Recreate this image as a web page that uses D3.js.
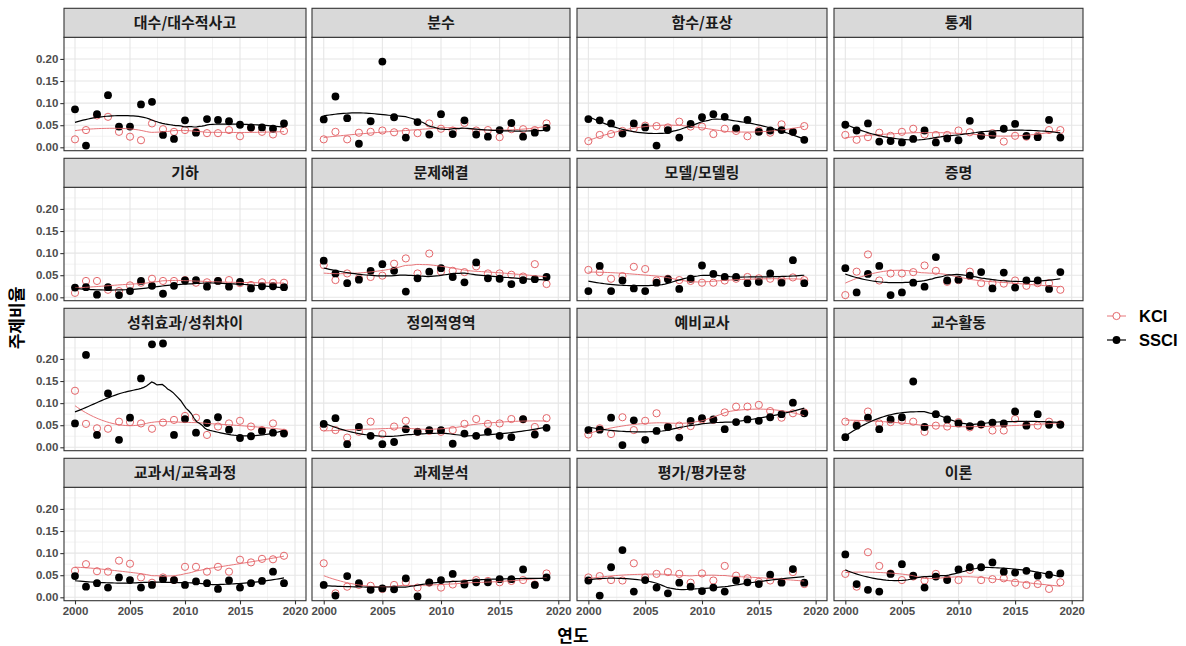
<!DOCTYPE html>
<html>
<head>
<meta charset="utf-8">
<script src="https://cdn.jsdelivr.net/npm/d3@7"></script>
<style>
  body { margin: 0; background: #fff; }
  svg text { font-family: "Liberation Sans", Arial, sans-serif; }
  .kr { font-family: "Noto Sans CJK KR", "Noto Sans", sans-serif; }
</style>
</head>
<body>
<svg id="chart" width="1186" height="646"></svg>
<script>
// years on the x axis
var years = [2000, 2001, 2002, 2003, 2004, 2005, 2006, 2007, 2008, 2009,
             2010, 2011, 2012, 2013, 2014, 2015, 2016, 2017, 2018, 2019];

var topics = ["대수/대수적사고", "분수", "함수/표상", "통계",
              "기하", "문제해결", "모델/모델링", "증명",
              "성취효과/성취차이", "정의적영역", "예비교사", "교수활동",
              "교과서/교육과정", "과제분석", "평가/평가문항", "이론"];

var yTicks = [0, 0.05, 0.10, 0.15, 0.20];
var xTicks = [2000, 2005, 2010, 2015, 2020];
var groups = ["KCI", "SSCI"];

// topic share per year, KCI (open red) and SSCI (filled black)
var kciAlgebra   = [0.018,0.039,0.072,0.069,0.035,0.024,0.016,0.054,0.041,0.035,0.039,0.035,0.032,0.032,0.039,0.025,0.044,0.035,0.029,0.037];
var ssciAlgebra  = [0.086,0.004,0.075,0.118,0.047,0.047,0.097,0.103,0.028,0.019,0.061,0.033,0.064,0.062,0.059,0.051,0.045,0.045,0.042,0.054];
var kciFraction  = [0.018,0.035,0.018,0.033,0.035,0.038,0.034,0.035,0.032,0.054,0.042,0.038,0.055,0.038,0.039,0.023,0.041,0.041,0.039,0.054];
var ssciFraction = [0.063,0.115,0.066,0.008,0.059,0.194,0.068,0.022,0.057,0.029,0.075,0.030,0.061,0.029,0.024,0.039,0.055,0.024,0.033,0.044];
var kciFunction  = [0.014,0.028,0.030,0.037,0.043,0.049,0.048,0.045,0.058,0.047,0.047,0.030,0.042,0.037,0.025,0.038,0.033,0.052,0.035,0.048];
var ssciFunction = [0.064,0.061,0.054,0.031,0.054,0.045,0.004,0.039,0.022,0.053,0.068,0.075,0.069,0.043,0.062,0.035,0.038,0.039,0.035,0.017];
var kciStats     = [0.028,0.017,0.023,0.033,0.026,0.035,0.042,0.029,0.028,0.028,0.038,0.034,0.026,0.032,0.013,0.026,0.024,0.026,0.039,0.039];
var ssciStats    = [0.051,0.038,0.054,0.013,0.014,0.011,0.019,0.038,0.011,0.020,0.016,0.060,0.026,0.028,0.042,0.053,0.026,0.023,0.062,0.022];

var kciGeometry  = [0.010,0.037,0.037,0.017,0.014,0.027,0.033,0.042,0.037,0.037,0.039,0.033,0.034,0.037,0.039,0.032,0.028,0.034,0.033,0.033];
var ssciGeometry = [0.022,0.023,0.006,0.023,0.005,0.014,0.037,0.026,0.008,0.026,0.038,0.039,0.024,0.037,0.024,0.035,0.020,0.025,0.025,0.023];
var kciProblem   = [0.073,0.039,0.054,0.043,0.046,0.049,0.076,0.088,0.054,0.099,0.058,0.060,0.057,0.070,0.054,0.054,0.051,0.047,0.075,0.030];
var ssciProblem  = [0.083,0.054,0.032,0.040,0.060,0.075,0.060,0.013,0.043,0.058,0.066,0.046,0.034,0.079,0.043,0.042,0.030,0.039,0.041,0.046];
var kciModel     = [0.062,0.057,0.042,0.048,0.069,0.064,0.038,0.042,0.039,0.037,0.033,0.033,0.038,0.042,0.046,0.043,0.042,0.039,0.045,0.039];
var ssciModel    = [0.014,0.071,0.014,0.038,0.020,0.014,0.033,0.041,0.019,0.042,0.072,0.053,0.046,0.046,0.032,0.035,0.054,0.033,0.084,0.032];
var kciProof     = [0.005,0.058,0.097,0.038,0.054,0.054,0.057,0.072,0.060,0.035,0.039,0.058,0.032,0.032,0.031,0.038,0.026,0.032,0.032,0.017];
var ssciProof    = [0.066,0.011,0.053,0.071,0.005,0.011,0.033,0.024,0.091,0.038,0.040,0.049,0.057,0.020,0.056,0.022,0.038,0.038,0.019,0.057];

var kciAchieve   = [0.128,0.053,0.043,0.042,0.058,0.057,0.054,0.042,0.056,0.062,0.071,0.067,0.028,0.047,0.054,0.060,0.047,0.039,0.054,0.033];
var ssciAchieve  = [0.054,0.209,0.028,0.122,0.017,0.067,0.156,0.233,0.235,0.028,0.064,0.033,0.055,0.068,0.040,0.021,0.025,0.037,0.033,0.031];
var kciAffect    = [0.045,0.039,0.022,0.035,0.058,0.030,0.047,0.060,0.035,0.037,0.035,0.039,0.053,0.064,0.053,0.054,0.064,0.063,0.046,0.066];
var ssciAffect   = [0.053,0.066,0.007,0.046,0.026,0.007,0.012,0.041,0.035,0.039,0.039,0.008,0.031,0.026,0.035,0.026,0.023,0.064,0.029,0.044];
var kciPreserv   = [0.029,0.043,0.030,0.068,0.039,0.060,0.077,0.046,0.049,0.048,0.063,0.062,0.079,0.092,0.092,0.096,0.082,0.067,0.077,0.079];
var ssciPreserv  = [0.039,0.040,0.067,0.005,0.061,0.017,0.037,0.046,0.022,0.060,0.066,0.063,0.041,0.057,0.063,0.060,0.068,0.075,0.101,0.077];
var kciTeaching  = [0.058,0.052,0.081,0.054,0.057,0.060,0.058,0.035,0.049,0.047,0.057,0.045,0.051,0.038,0.038,0.064,0.051,0.049,0.058,0.052];
var ssciTeaching = [0.023,0.049,0.067,0.041,0.063,0.068,0.149,0.046,0.075,0.063,0.054,0.048,0.052,0.056,0.054,0.081,0.049,0.075,0.051,0.051];

var kciCurric    = [0.060,0.075,0.059,0.058,0.083,0.076,0.045,0.033,0.045,0.039,0.069,0.069,0.058,0.069,0.058,0.085,0.079,0.087,0.086,0.094];
var ssciCurric   = [0.048,0.024,0.032,0.022,0.045,0.039,0.022,0.028,0.041,0.039,0.028,0.036,0.032,0.019,0.038,0.022,0.032,0.037,0.058,0.032];
var kciTask      = [0.077,0.009,0.024,0.028,0.026,0.019,0.028,0.034,0.022,0.033,0.022,0.029,0.032,0.039,0.037,0.034,0.037,0.039,0.029,0.054];
var ssciTask     = [0.028,0.004,0.048,0.032,0.017,0.020,0.018,0.043,0.002,0.034,0.039,0.053,0.029,0.034,0.034,0.041,0.041,0.063,0.028,0.045];
var kciAssess    = [0.045,0.048,0.039,0.038,0.077,0.045,0.053,0.057,0.053,0.033,0.054,0.038,0.071,0.049,0.043,0.035,0.038,0.035,0.057,0.030];
var ssciAssess   = [0.038,0.004,0.068,0.107,0.013,0.039,0.022,0.009,0.033,0.024,0.014,0.022,0.013,0.038,0.034,0.030,0.051,0.033,0.064,0.033];
var kciTheory    = [0.053,0.024,0.102,0.071,0.054,0.039,0.047,0.038,0.053,0.041,0.039,0.062,0.039,0.041,0.043,0.033,0.028,0.030,0.019,0.034];
var ssciTheory   = [0.097,0.030,0.017,0.013,0.053,0.075,0.049,0.022,0.047,0.039,0.063,0.068,0.068,0.079,0.058,0.056,0.060,0.049,0.051,0.054];

var kciSeries  = [kciAlgebra, kciFraction, kciFunction, kciStats,
                  kciGeometry, kciProblem, kciModel, kciProof,
                  kciAchieve, kciAffect, kciPreserv, kciTeaching,
                  kciCurric, kciTask, kciAssess, kciTheory];
var ssciSeries = [ssciAlgebra, ssciFraction, ssciFunction, ssciStats,
                  ssciGeometry, ssciProblem, ssciModel, ssciProof,
                  ssciAchieve, ssciAffect, ssciPreserv, ssciTeaching,
                  ssciCurric, ssciTask, ssciAssess, ssciTheory];

var colour = { KCI: "#e4676b", SSCI: "#000000" };
var span = 0.75;

// panel grid (the source picture has slightly uneven columns)
var cols = [[64, 306], [312, 570], [577, 827], [834, 1083]];
var rowTop = [8.3, 158.3, 308.3, 458.3];
var stripH = 29, plotH = 113.4;

var svg = d3.select("#chart");

// local quadratic loess, tricube weights
function loessAt(xs, ys, f, x0) {
    var n = xs.length, q = Math.floor(n * f);
    var dist = xs.map(function(x) { return Math.abs(x - x0); });
    var h = dist.slice().sort(d3.ascending)[q - 1] * 1.0001;
    var s = [0, 0, 0, 0, 0], t = [0, 0, 0];
    for (var i = 0; i < n; i++) {
        var u = dist[i] / h;
        if (u >= 1) continue;
        var w = Math.pow(1 - u * u * u, 3);
        var dx = xs[i] - x0, p = 1;
        for (var k = 0; k < 5; k++) { s[k] += w * p; p *= dx; }
        t[0] += w * ys[i]; t[1] += w * ys[i] * dx; t[2] += w * ys[i] * dx * dx;
    }
    var a = s[0], b = s[1], c = s[2], d = s[3], e = s[4];
    var det = a * (c * e - d * d) - b * (b * e - c * d) + c * (b * d - c * c);
    var num = t[0] * (c * e - d * d) - b * (t[1] * e - d * t[2]) + c * (t[1] * d - c * t[2]);
    return num / det;
}

var evalX = d3.range(80).map(function(i) { return 2000 + 19 * i / 79; });

topics.forEach(function(name, i) {
    var c = i % 4, r = Math.floor(i / 4);
    var top = rowTop[r] + stripH;
    var x = d3.scaleLinear().domain([1999, 2021]).range(cols[c]);
    var y = d3.scaleLinear().domain([-0.0077, 0.249]).range([top + plotH, top]);
    var g = svg.append("g");

    // minor grid
    var minorX = [2002.5, 2007.5, 2012.5, 2017.5];
    var minorY = [0.025, 0.075, 0.125, 0.175, 0.225];
    g.selectAll(".mx").data(minorX).enter().append("line")
        .attr("x1", function(d) { return x(d); }).attr("x2", function(d) { return x(d); })
        .attr("y1", top).attr("y2", top + plotH)
        .style("stroke", "#ebebeb").style("stroke-width", 0.6);
    g.selectAll(".my").data(minorY).enter().append("line")
        .attr("x1", cols[c][0]).attr("x2", cols[c][1])
        .attr("y1", function(d) { return y(d); }).attr("y2", function(d) { return y(d); })
        .style("stroke", "#ebebeb").style("stroke-width", 0.6);
    // major grid
    g.selectAll(".gx").data(xTicks).enter().append("line")
        .attr("x1", function(d) { return x(d); }).attr("x2", function(d) { return x(d); })
        .attr("y1", top).attr("y2", top + plotH)
        .style("stroke", "#e6e6e6").style("stroke-width", 1.1);
    g.selectAll(".gy").data(yTicks).enter().append("line")
        .attr("x1", cols[c][0]).attr("x2", cols[c][1])
        .attr("y1", function(d) { return y(d); }).attr("y2", function(d) { return y(d); })
        .style("stroke", "#e6e6e6").style("stroke-width", 1.1);

    var sets = [{ key: "KCI", vals: kciSeries[i] }, { key: "SSCI", vals: ssciSeries[i] }];

    sets.forEach(function(s) {
        var pts = years.map(function(yr, j) { return [yr, s.vals[j]]; });
        var sel = g.selectAll(".p" + s.key).data(pts).enter().append("circle")
            .attr("cx", function(d) { return x(d[0]); })
            .attr("cy", function(d) { return y(d[1]); });
        if (s.key === "KCI") {
            sel.attr("r", 3.6).style("fill", "none")
               .style("stroke", colour.KCI).style("stroke-width", 1);
        } else {
            sel.attr("r", 3.9).style("fill", colour.SSCI);
        }
    });

    sets.forEach(function(s) {
        var curve = evalX.map(function(xv) { return [xv, loessAt(years, s.vals, span, xv)]; });
        g.append("path")
            .datum(curve)
            .attr("d", d3.line().x(function(d) { return x(d[0]); }).y(function(d) { return y(d[1]); }))
            .style("fill", "none")
            .style("stroke", colour[s.key])
            .style("stroke-width", s.key === "KCI" ? 0.9 : 1.2);
    });

    // panel border
    g.append("rect")
        .attr("x", cols[c][0]).attr("y", top)
        .attr("width", cols[c][1] - cols[c][0]).attr("height", plotH)
        .style("fill", "none").style("stroke", "#333").style("stroke-width", 1.1);

    // strip
    g.append("rect")
        .attr("x", cols[c][0]).attr("y", rowTop[r])
        .attr("width", cols[c][1] - cols[c][0]).attr("height", stripH)
        .style("fill", "#d9d9d9").style("stroke", "#333").style("stroke-width", 1.1);
    g.append("text")
        .attr("class", "kr")
        .attr("x", (cols[c][0] + cols[c][1]) / 2)
        .attr("y", rowTop[r] + stripH / 2 + 5.5)
        .attr("text-anchor", "middle")
        .style("font-size", "15px").style("font-weight", "bold").style("fill", "#1a1a1a")
        .text(name);

    // y axis on left column
    if (c === 0) {
        var ya = g.append("g")
            .attr("transform", "translate(" + cols[c][0] + ",0)")
            .call(d3.axisLeft(y).tickValues(yTicks).tickFormat(d3.format(".2f")).tickSize(3.7).tickPadding(2));
        ya.select(".domain").remove();
        ya.selectAll("line").style("stroke", "#333").style("stroke-width", 1.1);
        ya.selectAll("text").style("font-size", "11.5px").style("font-weight", "bold")
            .style("fill", "#4d4d4d").style("font-family", "'Liberation Sans', Arial, sans-serif");
    }
    // x axis on bottom row
    if (r === 3) {
        var xa = g.append("g")
            .attr("transform", "translate(0," + (top + plotH) + ")")
            .call(d3.axisBottom(x).tickValues(xTicks).tickFormat(d3.format("d")).tickSize(3.7).tickPadding(2));
        xa.select(".domain").remove();
        xa.selectAll("line").style("stroke", "#333").style("stroke-width", 1.1);
        xa.selectAll("text").style("font-size", "11.5px").style("font-weight", "bold")
            .style("fill", "#4d4d4d").style("font-family", "'Liberation Sans', Arial, sans-serif");
    }
});

// axis titles
svg.append("text")
    .attr("class", "kr")
    .attr("x", 573).attr("y", 642)
    .attr("text-anchor", "middle")
    .style("font-size", "17px").style("font-weight", "bold")
    .text("연도");

svg.append("text")
    .attr("class", "kr")
    .attr("transform", "translate(23,318) rotate(-90)")
    .attr("text-anchor", "middle")
    .style("font-size", "17px").style("font-weight", "bold")
    .text("주제비율");

// legend
var legend = svg.append("g").attr("transform", "translate(1107,316)");
groups.forEach(function(k, i) {
    var lg = legend.append("g").attr("transform", "translate(0," + (i * 24) + ")");
    lg.append("line").attr("x1", 0).attr("x2", 19).attr("y1", 0).attr("y2", 0)
        .style("stroke", colour[k]).style("stroke-width", k === "KCI" ? 0.9 : 1.2);
    var pt = lg.append("circle").attr("cx", 9.5).attr("cy", 0);
    if (k === "KCI") {
        pt.attr("r", 3.6).style("fill", "#fff").style("stroke", colour.KCI).style("stroke-width", 1);
    } else {
        pt.attr("r", 3.9).style("fill", "#000");
    }
    lg.append("text")
        .attr("x", 32).attr("y", 6)
        .style("font-size", "16.5px").style("font-weight", "bold")
        .text(k);
});
</script>
</body>
</html>
